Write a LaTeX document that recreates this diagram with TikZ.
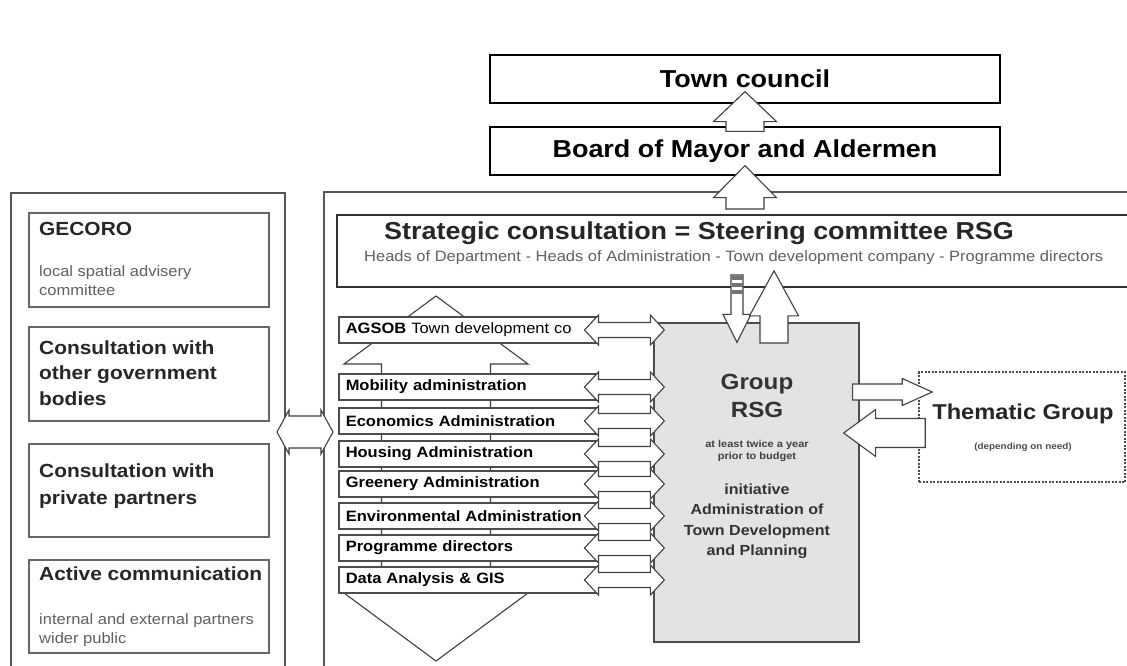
\documentclass[tikz,border=0pt]{standalone}
\usepackage{fontspec}
\setmainfont{Liberation Sans}[FakeStretch=1.1]
\usetikzlibrary{calc, positioning}

\newcommand{\fsz}[2]{\fontsize{#1}{#2}\selectfont}

\definecolor{rsggray}{HTML}{E3E3E3}
\definecolor{linegray}{HTML}{555555}
\definecolor{textgray}{HTML}{606060}

\tikzset{
  topbox/.style={draw, line width=1.2pt, minimum width=510pt, minimum height=48pt, font=\bfseries\fsz{24.5}{28}},
  sidebox/.style={draw=black!60, line width=1.6pt, minimum width=240pt},
  sidehead/.style={anchor=west, inner sep=0pt, align=left, text=black!85, font=\bfseries\fsz{19}{25.5}},
  sidenote/.style={anchor=west, inner sep=0pt, align=left, text=textgray, font=\fsz{15}{19}},
  adminbox/.style={draw=black!70, fill=white, line width=1.5pt, anchor=west, minimum width=259pt, minimum height=26pt,
    inner xsep=7pt, text width=245pt, align=left, font=\bfseries\fsz{15}{17}},
  arrowline/.style={draw=black!75, fill=white, line width=1.1pt},
  % block arrow: half shaft width, half head width, head length
  blockarrow/.style n args={3}{to path={
    ($(\tikztotarget)!#3!(\tikztostart)$) coordinate (ba-h)
    ($(\tikztostart)!#1!90:(\tikztotarget)$) -- ($(ba-h)!#1!90:(\tikztotarget)$)
    -- ($(ba-h)!#2!90:(\tikztotarget)$) -- (\tikztotarget)
    -- ($(ba-h)!#2!-90:(\tikztotarget)$) -- ($(ba-h)!#1!-90:(\tikztotarget)$)
    -- ($(\tikztostart)!#1!-90:(\tikztotarget)$) -- cycle}},
  % same with a head at both ends
  blockdouble/.style n args={3}{to path={
    ($(\tikztostart)!#3!(\tikztotarget)$) coordinate (bd-s)
    ($(\tikztotarget)!#3!(\tikztostart)$) coordinate (bd-t)
    (\tikztostart) -- ($(bd-s)!#2!90:(\tikztotarget)$) -- ($(bd-s)!#1!90:(\tikztotarget)$)
    -- ($(bd-t)!#1!-90:(\tikztostart)$) -- ($(bd-t)!#2!-90:(\tikztostart)$) -- (\tikztotarget)
    -- ($(bd-t)!#2!90:(\tikztostart)$) -- ($(bd-t)!#1!90:(\tikztostart)$)
    -- ($(bd-s)!#1!-90:(\tikztotarget)$) -- ($(bd-s)!#2!-90:(\tikztotarget)$) -- cycle}},
}

\begin{document}
\begin{tikzpicture}[x=1pt, y=-1pt]
  \clip (0,0) rectangle (1127,665);
  \fill[white] (0,0) rectangle (1127,665);

  % council and board
  \node[topbox] (council) at (745,79) {Town council};
  \node[topbox] (board) at (745,151) {Board of Mayor and Aldermen};
  \draw[arrowline, blockarrow={19pt}{31.5pt}{30pt}] ($(board.north)+(0,5)$) to ($(council.south)+(0,-12)$);

  % the two panels
  \draw[linegray, line width=1.6pt] (11,680) |- (285,193) -- (285,680);
  \draw[linegray, line width=1.6pt] (324,680) |- (1140,192);
  \coordinate (leftedge) at (285,432);
  \coordinate (rightedge) at (324,432);
  \draw[arrowline, blockdouble={16pt}{22pt}{12pt}] ($(leftedge)+(-8,0)$) to ($(rightedge)+(9,0)$);

  % left panel
  \node[sidebox, minimum height=94pt] (gecoro) at (149,260) {};
  \node[sidehead] (gecoro-t) at (39,229) {GECORO};
  \node[sidenote] (gecoro-n) at (39,280.5) {local spatial advisery\\committee};
  \node[sidebox, minimum height=94pt] (govt) at (149,374) {};
  \node[sidehead] (govt-t) at (39,373) {Consultation with\\other government\\bodies};
  \node[sidebox, minimum height=93pt] (priv) at (149,490.5) {};
  \node[sidehead, font=\bfseries\fsz{19}{27}] (priv-t) at (39,486.5) {Consultation with\\private partners};
  \node[sidebox, minimum height=93pt] (comm) at (149,606.5) {};
  \node[sidehead] (comm-t) at (39,574) {Active communication};
  \node[sidenote] (comm-n) at (39,630.5) {internal and external partners\\wider public};

  % steering committee
  \node[draw=black!80, line width=1.6pt, minimum width=803pt, minimum height=72pt] (steer) at (738.5,251) {};
  \node[anchor=west, inner sep=0pt, text=black!85, font=\bfseries\fsz{24.5}{28}] (steer-t) at (384,233)
    {Strategic consultation = Steering committee RSG};
  \node[anchor=west, inner sep=0pt, text=textgray, font=\fsz{15}{17}] (steer-s) at (364,258)
    {Heads of Department - Heads of Administration - Town development company - Programme directors};
  \coordinate (rsgtop) at (745,209);
  \draw[arrowline, blockarrow={19pt}{31.5pt}{32pt}] (rsgtop) to ($(board.south)+(0,-10)$);

  % administrations on the big double arrow
  \coordinate (stacktop) at (436,296);
  \coordinate (stackbot) at (436,661);
  \draw[arrowline, blockdouble={54.5pt}{92pt}{68pt}] (stacktop) to (stackbot);

  \node[adminbox] (agsob) at (338,330) {AGSOB {\mdseries Town development co}};
  \node[adminbox] (mob) at (338,387) {Mobility administration};
  \node[adminbox] (econ) at (338,421) {Economics Administration};
  \node[adminbox] (hous) at (338,454) {Housing Administration};
  \node[adminbox] (green) at (338,484) {Greenery Administration};
  \node[adminbox] (env) at (338,516) {Environmental Administration};
  \node[adminbox] (prog) at (338,548) {Programme directors};
  \node[adminbox] (data) at (338,580) {Data Analysis \& GIS};

  % group RSG
  \node[draw=black!70, fill=rsggray, line width=1.3pt, minimum width=205pt, minimum height=319pt] (grp) at (756.5,482.5) {};
  \foreach \adm in {agsob,mob,econ,hous,green,env,prog,data}
    \draw[arrowline, blockdouble={7.5pt}{15pt}{14pt}] ($(\adm.east)+(-14,0)$) to ($(grp.west |- \adm.east)+(11,0)$);

  \node[align=center, text=black!80, font=\bfseries\fsz{22}{28}] (grp-t) at (757,396) {Group\\RSG};
  \node[align=center, text=black!75, font=\bfseries\fsz{10}{11.5}] (grp-m) at (757,451) {at least twice a year\\prior to budget};
  \node[align=center, text=black!80, font=\bfseries\fsz{14.6}{20.5}] (grp-i) at (757,521)
    {initiative\\Administration of\\Town Development\\and Planning};

  % between steering committee and group
  \coordinate (downtop) at (737,275);
  \coordinate (upfoot) at (774,343);
  \draw[arrowline, blockarrow={6pt}{14pt}{28pt}] (downtop) to ($(grp.north -| downtop)+(0,20)$);
  \foreach \yy in {276,283,290}
    \fill[black!55] (731.5,\yy) rectangle (742.5,\yy+4);
  \draw[arrowline, blockarrow={14pt}{24.5pt}{45pt}] (upfoot) to ($(upfoot |- steer.south)+(0,-17)$);

  % thematic group
  \node[draw=black!70, dash pattern=on 2pt off 1.5pt, line width=1.5pt, minimum width=206pt, minimum height=110pt] (them) at (1022,427) {};
  \node[font=\bfseries\fsz{21.5}{24}, text=black!85] (them-t) at (1023,414) {Thematic Group};
  \node[font=\bfseries\fsz{9}{10}, text=black!70] (them-n) at (1023,447) {(depending on need)};
  \draw[arrowline, blockarrow={8pt}{13.5pt}{30pt}] ($(grp.east |- them.west)+(-7,-35)$) to ($(them.west)+(14,-35)$);
  \draw[arrowline, blockarrow={14.5pt}{23.5pt}{32pt}] ($(them.west)+(7,6)$) to ($(grp.east |- them.west)+(-16,6)$);
\end{tikzpicture}
\end{document}
